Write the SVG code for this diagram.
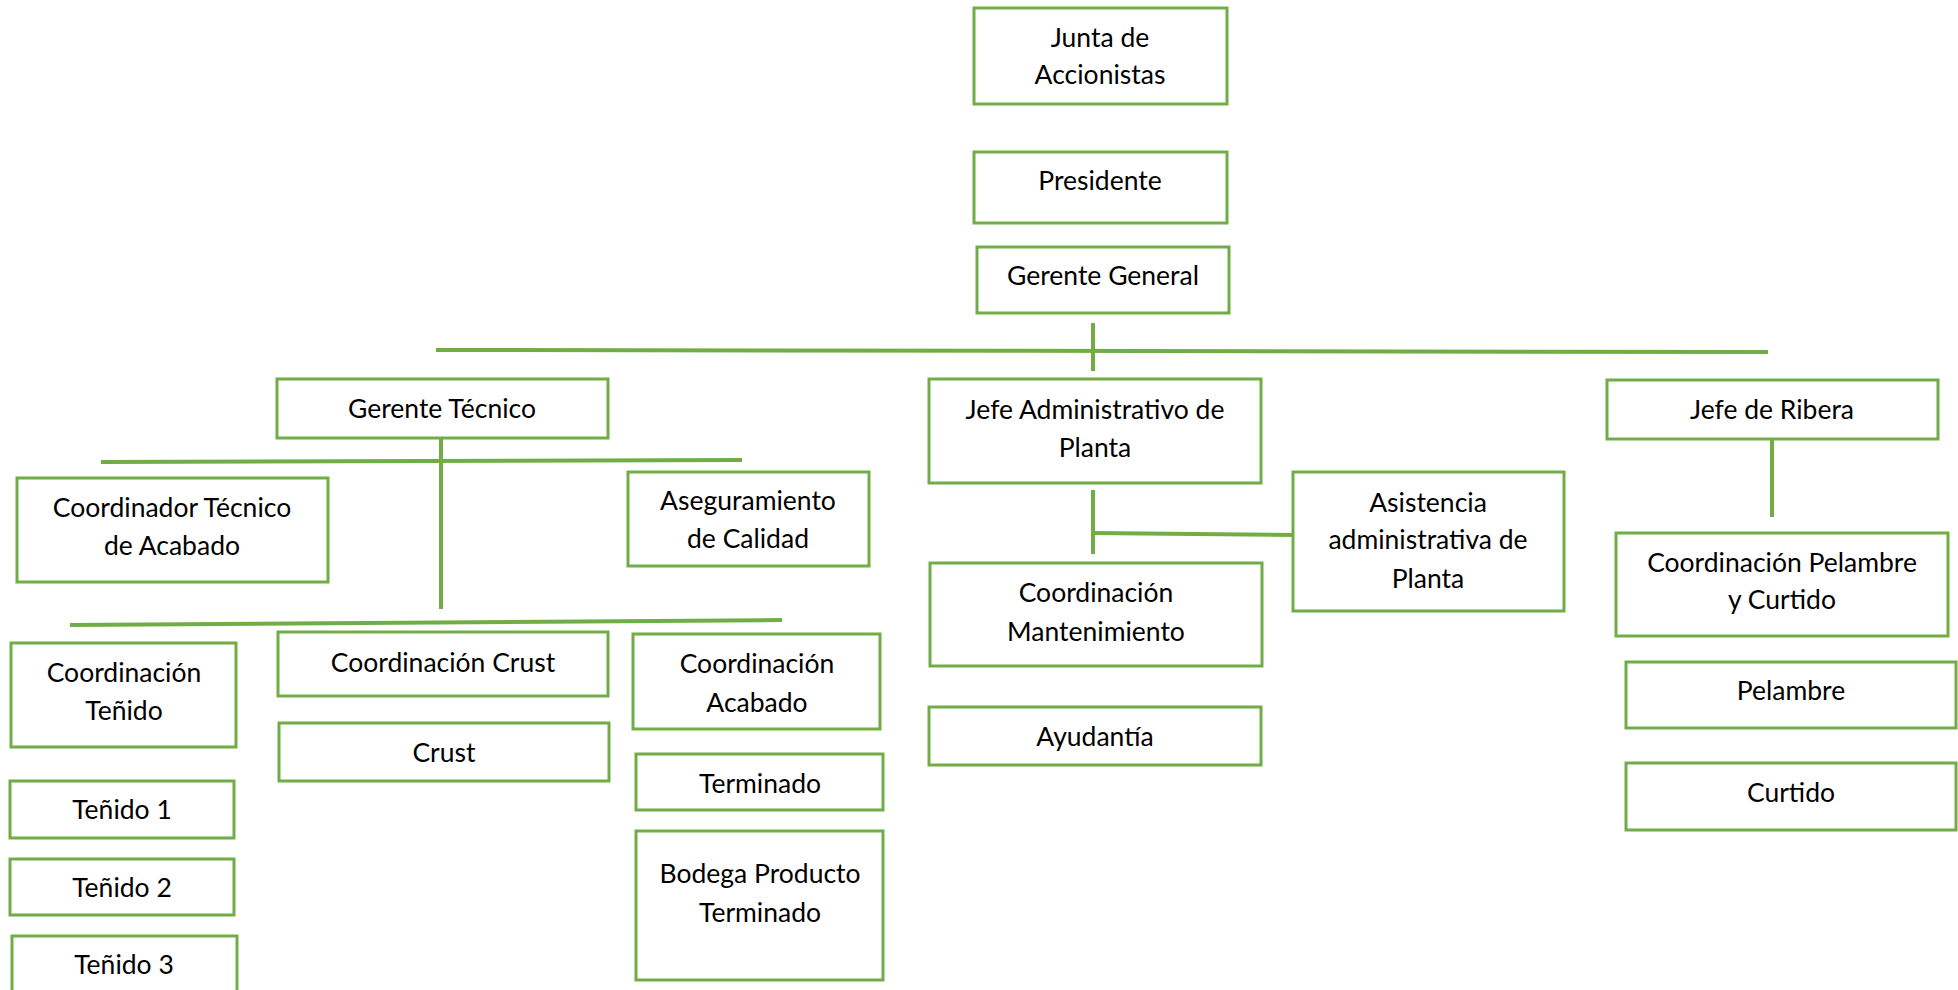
<svg xmlns="http://www.w3.org/2000/svg" width="1958" height="990" viewBox="0 0 1958 990">
<style>
.b{fill:#fff;stroke:#70AD47;stroke-width:3}
.c{stroke:#70AD47;stroke-width:4;fill:none}
text{font-family:Lato,"Liberation Sans",sans-serif;font-size:26.5px;fill:#000;text-anchor:middle}
</style>
<rect width="1958" height="990" fill="#fff"/>
<g id="connectors">
<line class="c" x1="1093" y1="323" x2="1093" y2="371"/>
<line class="c" x1="436" y1="350" x2="1768" y2="352"/>
<line class="c" x1="441" y1="438" x2="441" y2="609" stroke-width="3"/>
<line class="c" x1="101" y1="462" x2="742" y2="460"/>
<line class="c" x1="70" y1="625" x2="782" y2="620"/>
<line class="c" x1="1093" y1="490" x2="1093" y2="554"/>
<line class="c" x1="1093" y1="533" x2="1295" y2="535"/>
<line class="c" x1="1772" y1="439" x2="1772" y2="517"/>
</g>
<g id="junta"><rect class="b" x="974" y="8" width="253" height="96"/><text x="1100" y="47">Junta de</text><text x="1100" y="84">Accionistas</text></g>
<g id="presidente"><rect class="b" x="974" y="152" width="253" height="71"/><text x="1100" y="190">Presidente</text></g>
<g id="gerente-general"><rect class="b" x="977" y="247" width="252" height="66"/><text x="1103" y="285">Gerente General</text></g>
<g id="gerente-tecnico"><rect class="b" x="277" y="379" width="331" height="59"/><text x="442" y="418">Gerente Técnico</text></g>
<g id="coord-tec-acabado"><rect class="b" x="17" y="478" width="311" height="104"/><text x="172" y="517">Coordinador Técnico</text><text x="172" y="555">de Acabado</text></g>
<g id="aseguramiento"><rect class="b" x="628" y="472" width="241" height="94"/><text x="748" y="510">Aseguramiento</text><text x="748" y="548">de Calidad</text></g>
<g id="coord-tenido"><rect class="b" x="11" y="643" width="225" height="104"/><text x="124" y="682">Coordinación</text><text x="124" y="720">Teñido</text></g>
<g id="tenido1"><rect class="b" x="10" y="781" width="224" height="57"/><text x="122" y="819">Teñido 1</text></g>
<g id="tenido2"><rect class="b" x="10" y="859" width="224" height="56"/><text x="122" y="897">Teñido 2</text></g>
<g id="tenido3"><rect class="b" x="12" y="936" width="225" height="60"/><text x="124" y="974">Teñido 3</text></g>
<g id="coord-crust"><rect class="b" x="278" y="632" width="330" height="64"/><text x="443" y="672">Coordinación Crust</text></g>
<g id="crust"><rect class="b" x="279" y="723" width="330" height="58"/><text x="444" y="762">Crust</text></g>
<g id="coord-acabado"><rect class="b" x="633" y="634" width="247" height="95"/><text x="757" y="673">Coordinación</text><text x="757" y="712">Acabado</text></g>
<g id="terminado"><rect class="b" x="636" y="754" width="247" height="56"/><text x="760" y="793">Terminado</text></g>
<g id="bodega"><rect class="b" x="636" y="831" width="247" height="149"/><text x="760" y="883">Bodega Producto</text><text x="760" y="922">Terminado</text></g>
<g id="jefe-admin"><rect class="b" x="929" y="379" width="332" height="104"/><text x="1095" y="419">Jefe Administrativo de</text><text x="1095" y="457">Planta</text></g>
<g id="asistencia"><rect class="b" x="1293" y="472" width="271" height="139"/><text x="1428" y="512">Asistencia</text><text x="1428" y="549">administrativa de</text><text x="1428" y="588">Planta</text></g>
<g id="coord-mant"><rect class="b" x="930" y="563" width="332" height="103"/><text x="1096" y="602">Coordinación</text><text x="1096" y="641">Mantenimiento</text></g>
<g id="ayudantia"><rect class="b" x="929" y="707" width="332" height="58"/><text x="1095" y="746">Ayudantía</text></g>
<g id="jefe-ribera"><rect class="b" x="1607" y="380" width="331" height="59"/><text x="1772" y="419">Jefe de Ribera</text></g>
<g id="coord-pelambre"><rect class="b" x="1616" y="533" width="332" height="103"/><text x="1782" y="572">Coordinación Pelambre</text><text x="1782" y="609">y Curtido</text></g>
<g id="pelambre"><rect class="b" x="1626" y="662" width="330" height="66"/><text x="1791" y="700">Pelambre</text></g>
<g id="curtido"><rect class="b" x="1626" y="763" width="330" height="67"/><text x="1791" y="802">Curtido</text></g>
</svg>
